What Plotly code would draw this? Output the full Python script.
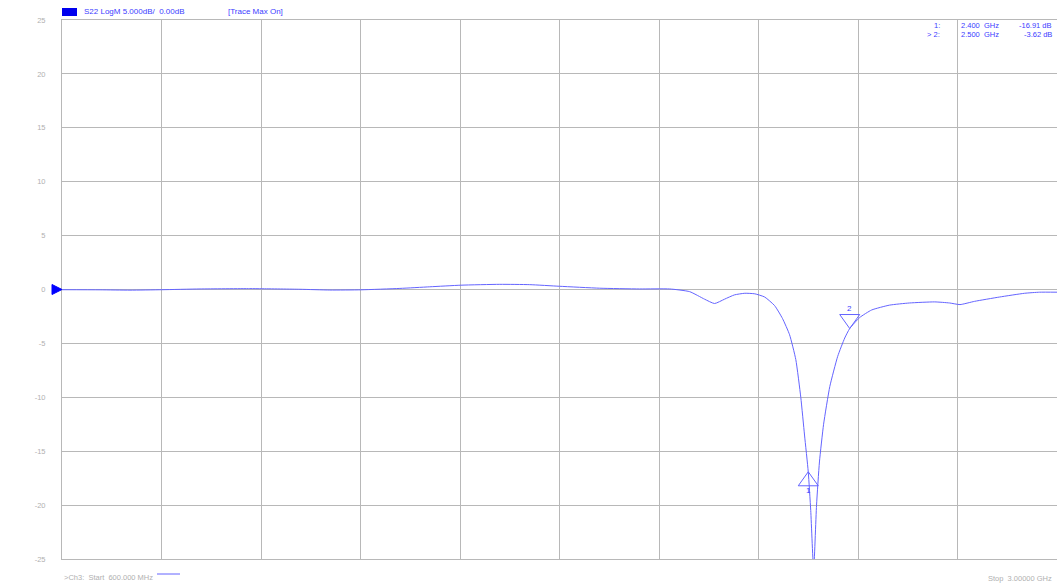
import plotly.graph_objects as go

# S22 trace, frequency in GHz and magnitude in dB
freq_ghz = [0.600, 0.692, 0.764, 0.841, 0.933, 1.053, 1.082, 1.174, 1.246, 1.321,
            1.415, 1.487, 1.562, 1.656, 1.728, 1.800, 1.897, 1.993, 2.066, 2.114,
            2.150, 2.174, 2.198, 2.222, 2.247, 2.271, 2.295, 2.319, 2.338, 2.355,
            2.370, 2.382, 2.391, 2.400, 2.406, 2.413, 2.420, 2.427, 2.437, 2.452,
            2.471, 2.488, 2.500, 2.524, 2.553, 2.596, 2.644, 2.705, 2.741, 2.766,
            2.801, 2.861, 2.922, 2.958, 3.000]
s22_db = [-0.02, -0.03, -0.06, -0.02, 0.05, 0.08, 0.07, 0.02, -0.05, -0.03,
          0.10, 0.25, 0.40, 0.48, 0.45, 0.30, 0.12, 0.05, 0.05, -0.20,
          -0.90, -1.30, -0.90, -0.50, -0.35, -0.40, -0.70, -1.50, -2.70, -4.20,
          -6.50, -10.0, -13.5, -16.91, -20.5, -26.0, -20.0, -16.0, -12.5, -9.0,
          -6.2, -4.5, -3.62, -2.6, -1.9, -1.45, -1.25, -1.15, -1.25, -1.4,
          -1.1, -0.7, -0.35, -0.25, -0.25]

# Markers
marker_ids = ["1", "2"]
marker_freq = [2.400, 2.500]
marker_db = [-16.91, -3.62]
marker_up = [True, False]

y_ticks = [25, 20, 15, 10, 5, 0, -5, -10, -15, -20, -25]

W, H = 1057, 584
ML, MR, MT, MB = 62, 0, 20, 25
PW, PH = W - ML - MR, H - MT - MB

TRACE = "rgb(100,100,255)"
TXT_BLUE = "rgb(60,60,255)"
GRID = "#b8b8b8"
GRAY_TXT = "#b0b0b0"
FONT = "Liberation Sans, Arial, sans-serif"


def px(x):
    return (x - ML) / PW


def py(y):
    return (H - MB - y) / PH


fig = go.Figure()
fig.add_trace(go.Scatter(x=freq_ghz, y=s22_db, mode="lines",
                         line=dict(color=TRACE, width=1, shape="spline", smoothing=0.5),
                         hoverinfo="skip", showlegend=False))

shapes = []
annotations = []

# Marker triangles, tip on the trace value
for mid, f, v, up in zip(marker_ids, marker_freq, marker_db, marker_up):
    if up:
        path = "M 0 0 L -10 -14 L 10 -14 Z"
        shift = -19
    else:
        path = "M 0 0 L -10 14 L 10 14 Z"
        shift = 20
    shapes.append(dict(type="path", xref="x", yref="y", xsizemode="pixel",
                       ysizemode="pixel", xanchor=f, yanchor=v, path=path,
                       line=dict(color=TRACE, width=1), fillcolor="rgba(0,0,0,0)"))
    annotations.append(dict(x=f, y=v, xref="x", yref="y", text=mid, showarrow=False,
                            yshift=shift, font=dict(family=FONT, size=8, color=TXT_BLUE)))

# Reference level arrow at 0 dB
shapes.append(dict(type="path", xref="paper", yref="y", xsizemode="pixel",
                   ysizemode="pixel", xanchor=0, yanchor=0,
                   path="M -10 5 L 0 0 L -10 -5 Z", line=dict(color="#0000ff", width=1),
                   fillcolor="#0000ff"))

# Header
shapes.append(dict(type="rect", xref="paper", yref="paper", x0=px(62), x1=px(77),
                   y0=py(16), y1=py(8), fillcolor="#0000ee", line=dict(width=0)))
annotations.append(dict(x=px(82), y=py(12), xref="paper", yref="paper",
                        text="S22 LogM 5.000dB/  0.00dB", showarrow=False,
                        xanchor="left", yanchor="middle",
                        font=dict(family=FONT, size=8, color=TXT_BLUE)))
annotations.append(dict(x=px(226), y=py(12), xref="paper", yref="paper",
                        text="[Trace Max On]", showarrow=False,
                        xanchor="left", yanchor="middle",
                        font=dict(family=FONT, size=8, color=TXT_BLUE)))

# Marker readout
for i, (mid, f, v) in enumerate(zip(marker_ids, marker_freq, marker_db)):
    yy = py(25 + i * 9)
    prefix = "> " if i == len(marker_ids) - 1 else ""
    annotations.append(dict(x=px(942), y=yy, xref="paper", yref="paper",
                            text=f"{prefix}{mid}:", showarrow=False, xanchor="right",
                            yanchor="middle", font=dict(family=FONT, size=7.5, color=TXT_BLUE)))
    annotations.append(dict(x=px(959), y=yy, xref="paper", yref="paper",
                            text=f"{f:.3f}  GHz", showarrow=False, xanchor="left",
                            yanchor="middle", font=dict(family=FONT, size=7.5, color=TXT_BLUE)))
    annotations.append(dict(x=px(1054), y=yy, xref="paper", yref="paper",
                            text=f"{v:.2f} dB", showarrow=False, xanchor="right",
                            yanchor="middle", font=dict(family=FONT, size=7.5, color=TXT_BLUE)))

# Footer
annotations.append(dict(x=px(62), y=py(577), xref="paper", yref="paper",
                        text=">Ch3:  Start  600.000 MHz", showarrow=False,
                        xanchor="left", yanchor="middle",
                        font=dict(family=FONT, size=7.5, color=GRAY_TXT)))
shapes.append(dict(type="line", xref="paper", yref="paper", x0=px(157), x1=px(180),
                   y0=py(574), y1=py(574), line=dict(color=TRACE, width=1)))
annotations.append(dict(x=px(1054), y=py(578), xref="paper", yref="paper",
                        text="Stop  3.00000 GHz", showarrow=False,
                        xanchor="right", yanchor="middle",
                        font=dict(family=FONT, size=7.5, color=GRAY_TXT)))

fig.update_layout(
    width=W, height=H,
    margin=dict(l=ML, r=MR, t=MT, b=MB),
    paper_bgcolor="white", plot_bgcolor="white",
    shapes=shapes, annotations=annotations,
    xaxis=dict(range=[0.6, 3.0], tick0=0.6, dtick=0.24, showticklabels=False,
               showgrid=True, gridcolor=GRID, gridwidth=1, zeroline=False,
               showline=True, linecolor=GRID, linewidth=1, mirror=True, ticks=""),
    yaxis=dict(range=[-25, 25], tickvals=y_ticks, ticktext=[str(t) for t in y_ticks],
               showgrid=True, gridcolor=GRID, gridwidth=1, zeroline=False,
               showline=True, linecolor=GRID, linewidth=1, mirror=True,
               ticks="outside", ticklen=14, tickcolor="rgba(0,0,0,0)",
               tickfont=dict(family=FONT, size=7.5, color=GRAY_TXT)),
)

fig.write_html("out.html")
